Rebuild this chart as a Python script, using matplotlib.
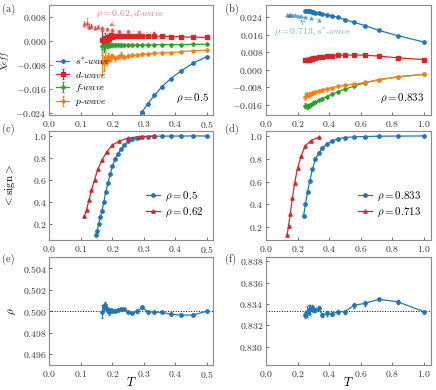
import matplotlib
matplotlib.use('Agg')
import matplotlib.pyplot as plt
from matplotlib.ticker import FuncFormatter, MultipleLocator

plt.rcParams.update({
    'font.family': 'serif', 'font.serif': ['cmr10'], 'mathtext.fontset': 'cm',
    'axes.formatter.use_mathtext': True, 'font.size': 7,
})

# ---------------- data ----------------
# panel (a) rho = 0.5
T_a = [0.1667, 0.1724, 0.1770, 0.1818, 0.1852, 0.1905, 0.1961, 0.2, 0.2083, 0.2174,
       0.2273, 0.2381, 0.25, 0.2632, 0.2778, 0.2941, 0.3125, 0.3333, 0.3571, 0.3846,
       0.4167, 0.4545, 0.5]
d_a = [0.0005, -0.0008, 0.0012, 0.0003, 0.0016, 0.0008, 0.0020, 0.0015, 0.0018, 0.0019,
       0.0018, 0.0019, 0.0018, 0.0019, 0.0019, 0.0018, 0.0018, 0.0017, 0.0017, 0.0016,
       0.0015, 0.0014, 0.0013]
f_a = [-0.0017, -0.0015, -0.0013, -0.0012, -0.0012, -0.0012, -0.0012, -0.0012, -0.0012, -0.0012,
       -0.0012, -0.0012, -0.0012, -0.0012, -0.0012, -0.0012, -0.0012, -0.0012, -0.0011, -0.0011,
       -0.0011, -0.0010, -0.0010]
p_a = [-0.0069, -0.0074, -0.0057, -0.0063, -0.0051, -0.0060, -0.0054, -0.0049, -0.0057, -0.0054,
       -0.0046, -0.0054, -0.0049, -0.0047, -0.0046, -0.0043, -0.0042, -0.0040, -0.0039, -0.0038,
       -0.0035, -0.0032, -0.0029]
err_a = [0.0030, 0.0020, 0.0015, 0.0012, 0.0010, 0.0008, 0.0008, 0.0006, 0.0006, 0.0005,
         0.0008, 0.0004, 0.0004, 0.0003, 0.0003, 0.0003, 0.0002, 0.0002, 0.0002, 0.0002,
         0.0002, 0.0002, 0.0002]
T_sa = [0.2778, 0.2941, 0.3125, 0.3333, 0.3571, 0.3846, 0.4167, 0.4545, 0.5]
s_a = [-0.0268, -0.0236, -0.0209, -0.0181, -0.0152, -0.0125, -0.0100, -0.0074, -0.0051]
# rho = 0.62 d-wave
T_r62 = [0.1111, 0.1176, 0.125, 0.1333, 0.1429, 0.1538, 0.1667, 0.1818, 0.2, 0.2222,
         0.25, 0.2857, 0.3333]
d_r62 = [0.0057, 0.0063, 0.0049, 0.0051, 0.0046, 0.0048, 0.0043, 0.0042, 0.0037, 0.0034,
         0.0034, 0.0031, 0.0029]
err_r62 = [0.0010, 0.0015, 0.0008, 0.0006, 0.0005, 0.0005, 0.0004, 0.0003, 0.0003, 0.0002,
           0.0002, 0.0002, 0.0002]

# panel (b) rho = 0.833
T_b = [0.25, 0.2597, 0.27, 0.28, 0.29, 0.30, 0.3125, 0.3333, 0.3571, 0.3846, 0.4167,
       0.4545, 0.5, 0.5556, 0.625, 0.7143, 0.8333, 1.0]
s_b = [0.0269, 0.0268, 0.0266, 0.0265, 0.0263, 0.0261, 0.0259, 0.0256, 0.0253, 0.0250,
       0.0246, 0.0238, 0.0228, 0.0216, 0.0201, 0.0179, 0.0155, 0.0126]
d_b = [0.0042, 0.0043, 0.0045, 0.0047, 0.0049, 0.0051, 0.0053, 0.0056, 0.0059, 0.0061,
       0.0063, 0.0065, 0.0066, 0.0067, 0.0066, 0.0062, 0.0054, 0.0046]
f_b = [-0.0164, -0.0167, -0.0165, -0.0160, -0.0155, -0.0151, -0.0146, -0.0139, -0.0131, -0.0122,
       -0.0111, -0.0100, -0.0089, -0.0075, -0.0060, -0.0046, -0.0033, -0.0021]
p_b = [-0.0122, -0.0113, -0.0115, -0.0111, -0.0107, -0.0104, -0.0101, -0.0096, -0.0091, -0.0086,
       -0.0081, -0.0076, -0.0071, -0.0065, -0.0058, -0.0045, -0.0032, -0.0021]
err_b = [0.0012, 0.0010, 0.0008, 0.0006, 0.0005, 0.0004, 0.0004, 0.0003, 0.0003, 0.0002,
         0.0002, 0.0002, 0.0002, 0.0002, 0.0002, 0.0002, 0.0002, 0.0002]
# rho = 0.713 s*-wave
T_r713 = [0.1333, 0.1429, 0.1538, 0.1667, 0.1818, 0.2, 0.2222, 0.25, 0.2857, 0.3333]
s_r713 = [0.0251, 0.0251, 0.0250, 0.0250, 0.0248, 0.0246, 0.0243, 0.0238, 0.0233, 0.0228]

# panel (c) average sign
T_c5 = [0.1471, 0.1515, 0.1563, 0.1613, 0.1667, 0.1724, 0.1786, 0.1852, 0.1923, 0.2,
        0.2083, 0.2174, 0.2273, 0.2381, 0.25, 0.2632, 0.2778, 0.2941, 0.3125, 0.3333,
        0.3571, 0.3846, 0.4167, 0.4545, 0.5]
sign_c5 = [0.10, 0.14, 0.20, 0.26, 0.32, 0.40, 0.49, 0.57, 0.65, 0.73,
           0.79, 0.84, 0.88, 0.92, 0.95, 0.97, 0.98, 0.99, 0.995, 0.997,
           0.998, 0.999, 0.999, 1.0, 1.0]
T_c62 = [0.1111, 0.1176, 0.125, 0.1333, 0.1429, 0.1538, 0.1667, 0.1818, 0.2, 0.2222,
         0.25, 0.2857, 0.3333]
sign_c62 = [0.273, 0.328, 0.414, 0.505, 0.603, 0.70, 0.78, 0.857, 0.918, 0.954,
            0.982, 0.994, 1.0]

# panel (d) average sign
T_d833 = [0.2381, 0.25, 0.2632, 0.2778, 0.2941, 0.3125, 0.3333, 0.3571, 0.3846, 0.4167,
          0.4545, 0.5, 0.5556, 0.625, 0.7143, 0.8333, 1.0]
sign_d833 = [0.30, 0.404, 0.512, 0.609, 0.708, 0.796, 0.848, 0.892, 0.927, 0.953,
             0.974, 0.985, 0.991, 0.994, 0.997, 0.998, 0.999]
T_d713 = [0.1333, 0.1429, 0.1538, 0.1667, 0.1818, 0.2, 0.2222, 0.25, 0.2857, 0.3333]
sign_d713 = [0.133, 0.212, 0.317, 0.454, 0.591, 0.717, 0.825, 0.915, 0.959, 0.988]

# panel (e) density rho=0.5
rho_e = [0.49994, 0.5004, 0.50053, 0.50016, 0.5001, 0.49994, 0.5001, 0.5, 0.50003, 0.5001,
         0.50016, 0.50016, 0.49991, 0.49984, 0.49997, 0.50034, 0.49994, 0.49991, 0.49988, 0.49972,
         0.49963, 0.49963, 0.5]
rho_e_err = [0.0006, 0.0003, 0.0003, 0.0002, 0.0002, 0.0003, 0.0001, 0.0001, 0.0001, 0.0001,
             0.0001, 0.0001, 0.0001, 0.0001, 0.0001, 0.0001, 0.0001, 0.0001, 0.0001, 0.0001,
             0.0001, 0.0001, 0.0001]
# panel (f) density rho=0.833
T_f = [0.25, 0.2597, 0.27, 0.28, 0.29, 0.30, 0.3125, 0.3333, 0.3571, 0.3846, 0.4167,
       0.4545, 0.5, 0.5556, 0.625, 0.7143, 0.8333, 1.0]
rho_f = [0.83296, 0.83328, 0.83344, 0.8335, 0.8336, 0.83353, 0.83344, 0.8336, 0.83296, 0.83312,
         0.83306, 0.83328, 0.83328, 0.83387, 0.83406, 0.83444, 0.83422, 0.83328]
rho_f_err = [0.0003, 0.0005, 0.0005, 0.0004, 0.0003, 0.0003, 0.0002, 0.0002, 0.0002, 0.0002,
             0.0002, 0.0002, 0.0002, 0.0002, 0.0002, 0.0001, 0.0002, 0.0001]

BLUE, RED, GREEN, ORANGE = '#1f77b4', '#d62728', '#2ca02c', '#ff7f0e'

# ---------------- figure ----------------
fig = plt.figure(figsize=(4.36, 3.90), dpi=100)
L1, L2, W1, W2 = 0.1135, 0.6101, 0.3757, 0.3784
B = [0.7051, 0.3846, 0.0641]
H = [0.2808, 0.2795, 0.2777]
axa = fig.add_axes([L1, B[0], W1, H[0]])
axb = fig.add_axes([L2, B[0], W2, H[0]])
axc = fig.add_axes([L1, B[1], W1, H[1]])
axd = fig.add_axes([L2, B[1], W2, H[1]])
axe = fig.add_axes([L1, B[2], W1, H[2]])
axf = fig.add_axes([L2, B[2], W2, H[2]])

ekw = dict(capsize=0.8, elinewidth=0.7, lw=0.9, ms=2.4)

def style(ax):
    for s in ax.spines.values():
        s.set_color('#8a8a8a')
        s.set_linewidth(0.8)
    ax.tick_params(direction='in', length=2.5, width=0.6, color='#555555',
                   labelcolor='#333333', labelsize=7)
    ax.tick_params(axis='y', pad=2)
    ax.tick_params(axis='x', pad=3)

fmt3 = FuncFormatter(lambda v, p: r'$%.3f$' % v if abs(v) > 1e-9 else r'$0.000$')

# (a)
axa.errorbar(T_r62, d_r62, yerr=err_r62, fmt='^:', color=RED, alpha=0.45, **ekw)
axa.errorbar(T_sa, s_a, fmt='o-', color=BLUE, label=r'$s^{*}$-$\mathit{wave}$', **ekw)
axa.errorbar(T_a, d_a, yerr=err_a, fmt='s-', color=RED, label=r'$d$-$\mathit{wave}$', **ekw)
axa.errorbar(T_a, f_a, yerr=err_a, fmt='P-', color=GREEN, label=r'$f$-$\mathit{wave}$', **ekw)
axa.errorbar(T_a, p_a, yerr=[e * 1.3 for e in err_a], fmt='P-', color=ORANGE,
             label=r'$p$-$\mathit{wave}$', **ekw)
axa.set_xlim(0, 0.52)
axa.set_ylim(-0.0247, 0.012)
axa.set_yticks([-0.024, -0.016, -0.008, 0.0, 0.008])
axa.yaxis.set_major_formatter(fmt3)
axa.xaxis.set_major_locator(MultipleLocator(0.1))
axa.legend(loc='lower left', frameon=False, fontsize=7, handlelength=1.3,
           handletextpad=0.6, labelspacing=0.3, borderaxespad=0.3)
axa.annotate(r'$\rho=0.62, d$-$\mathit{wave}$', xy=(0.182, 0.0046), xytext=(0.148, 0.0091),
             color=RED, alpha=0.6, fontsize=7, va='center',
             arrowprops=dict(arrowstyle='->', color=RED, alpha=0.6, lw=0.7))
axa.text(0.975, 0.15, r'$\rho=0.5$', transform=axa.transAxes, ha='right', va='center', fontsize=7.8)
axa.set_ylabel(r'$\chi_{eff}$', fontsize=8)
axa.yaxis.set_label_coords(-0.22, 0.5)

# (b)
axb.errorbar(T_r713, s_r713, fmt='^:', color=BLUE, alpha=0.45, **ekw)
axb.errorbar(T_b, s_b, fmt='o-', color=BLUE, **ekw)
axb.errorbar(T_b, d_b, fmt='s-', color=RED, **ekw)
axb.errorbar(T_b, f_b, yerr=err_b, fmt='P-', color=GREEN, **ekw)
axb.errorbar(T_b, p_b, yerr=[e * 1.3 for e in err_b], fmt='P-', color=ORANGE, **ekw)
axb.set_xlim(0, 1.045)
axb.set_ylim(-0.0206, 0.0292)
axb.set_yticks([-0.016, -0.008, 0.0, 0.008, 0.016, 0.024])
axb.yaxis.set_major_formatter(fmt3)
axb.xaxis.set_major_locator(MultipleLocator(0.2))
axb.annotate(r'$\rho=0.713, s^{*}$-$\mathit{wave}$', xy=(0.206, 0.0236), xytext=(0.048, 0.0172),
             color=BLUE, alpha=0.6, fontsize=7, va='center',
             arrowprops=dict(arrowstyle='->', color=BLUE, alpha=0.6, lw=0.7))
axb.text(0.955, 0.15, r'$\rho=0.833$', transform=axb.transAxes, ha='right', va='center', fontsize=7.8)

# (c)
axc.errorbar(T_c5, sign_c5, fmt='o-', color=BLUE, label=r'$\rho=0.5$', **ekw)
axc.errorbar(T_c62, sign_c62, fmt='^-', color=RED, label=r'$\rho=0.62$', **ekw)
axc.set_xlim(0, 0.52)
axc.xaxis.set_major_locator(MultipleLocator(0.1))
axc.yaxis.set_major_locator(MultipleLocator(0.2))
axc.legend(loc='center right', bbox_to_anchor=(1.0, 0.33), frameon=False, fontsize=7.8,
           handlelength=1.3, handletextpad=0.5, labelspacing=0.25)
axc.set_ylabel(r'$<\mathrm{sign}>$', fontsize=8)
axc.yaxis.set_label_coords(-0.2, 0.5)

# (d)
axd.errorbar(T_d833, sign_d833, fmt='o-', color=BLUE, label=r'$\rho=0.833$', **ekw)
axd.errorbar(T_d713, sign_d713, fmt='^-', color=RED, label=r'$\rho=0.713$', **ekw)
axd.set_xlim(0, 1.045)
axd.xaxis.set_major_locator(MultipleLocator(0.2))
axd.yaxis.set_major_locator(MultipleLocator(0.2))
axd.legend(loc='center right', bbox_to_anchor=(1.0, 0.33), frameon=False, fontsize=7.8,
           handlelength=1.3, handletextpad=0.5, labelspacing=0.25)

# (e)
axe.axhline(0.5, color='k', ls=':', lw=0.7)
axe.errorbar(T_a, rho_e, yerr=rho_e_err, fmt='o-', color=BLUE, **ekw)
axe.set_xlim(0, 0.52)
axe.set_ylim(0.495, 0.50505)
axe.set_yticks([0.496, 0.498, 0.500, 0.502, 0.504])
axe.yaxis.set_major_formatter(fmt3)
axe.xaxis.set_major_locator(MultipleLocator(0.1))
axe.set_ylabel(r'$\rho$', fontsize=8)
axe.yaxis.set_label_coords(-0.19, 0.5)
axe.set_xlabel(r'$T$', fontsize=9)
axe.xaxis.set_label_coords(0.5, -0.1)

# (f)
axf.axhline(0.83333, color='k', ls=':', lw=0.7)
axf.errorbar(T_f, rho_f, yerr=rho_f_err, fmt='o-', color=BLUE, **ekw)
axf.set_xlim(0, 1.045)
axf.set_ylim(0.82828, 0.83844)
axf.set_yticks([0.830, 0.832, 0.834, 0.836, 0.838])
axf.yaxis.set_major_formatter(fmt3)
axf.xaxis.set_major_locator(MultipleLocator(0.2))
axf.set_xlabel(r'$T$', fontsize=9)
axf.xaxis.set_label_coords(0.5, -0.1)

for ax in (axa, axb, axc, axd, axe, axf):
    style(ax)

for lab, x, y in [('(a)', 0.004, 0.977), ('(b)', 0.516, 0.977), ('(c)', 0.004, 0.669),
                  ('(d)', 0.516, 0.669), ('(e)', 0.004, 0.335), ('(f)', 0.516, 0.335)]:
    fig.text(x, y, lab, fontsize=7.5, va='center', ha='left', color='#333333')

fig.savefig('out.png', dpi=100)
